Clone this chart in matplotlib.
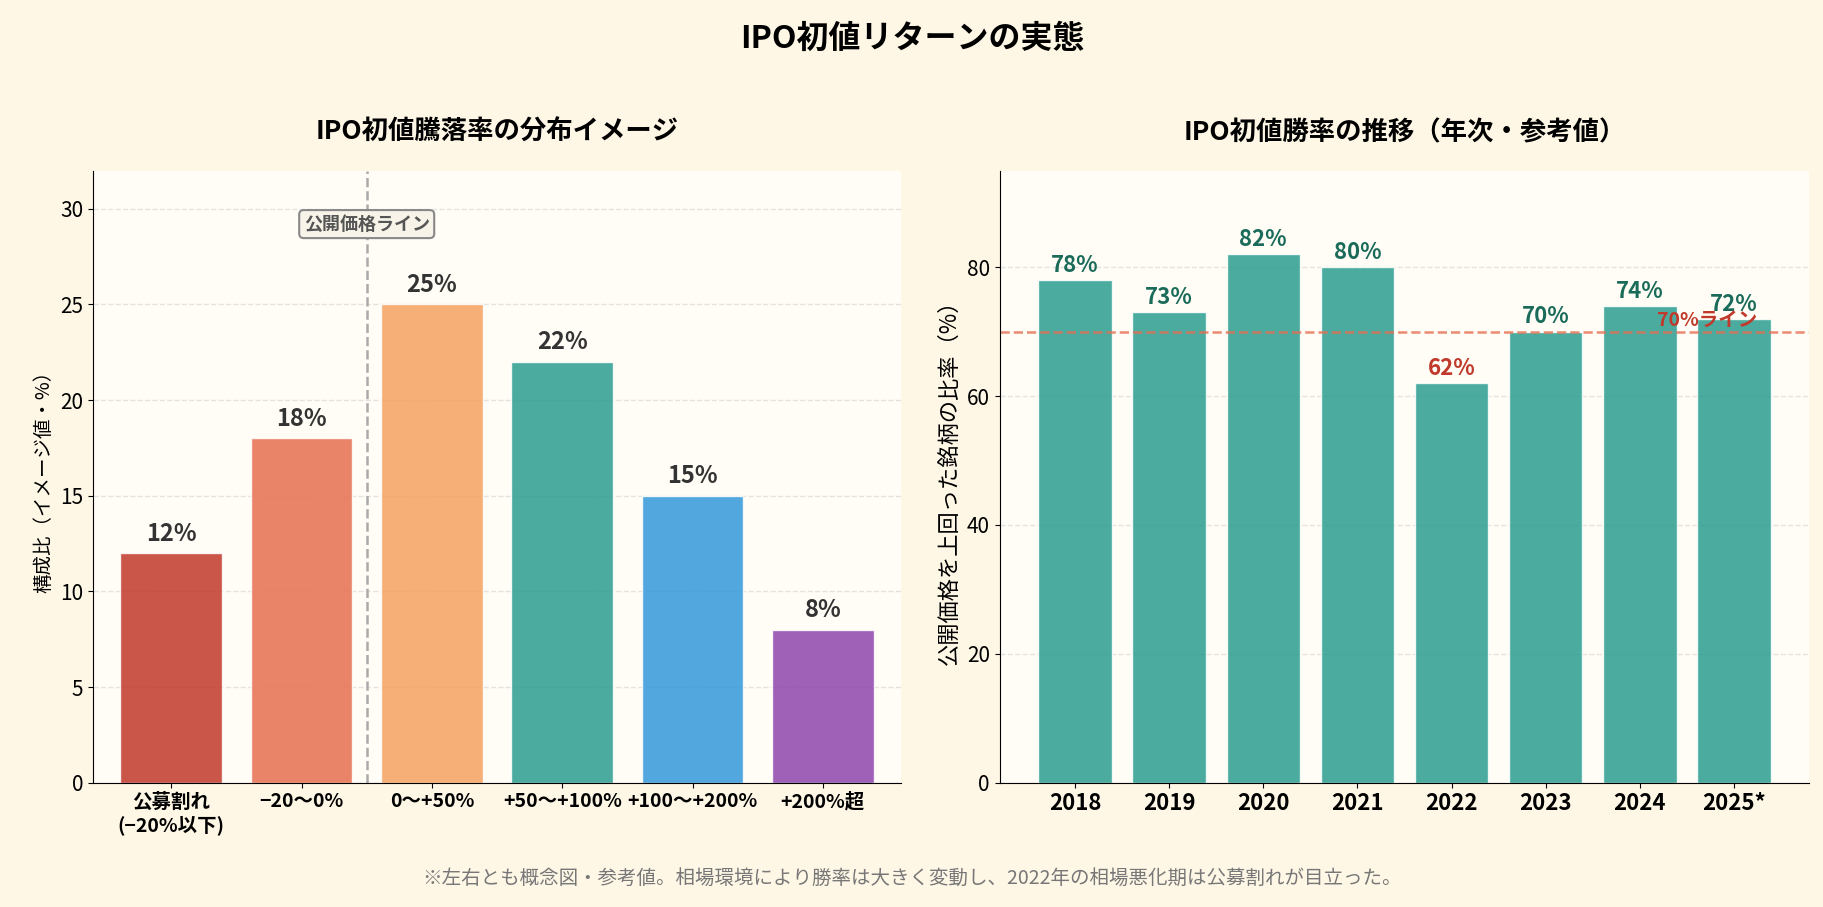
import matplotlib.pyplot as plt
import numpy as np

plt.rcParams['font.family'] = ['Noto Sans CJK JP', 'DejaVu Sans']

# 左: 初値騰落率の分布
dist_labels = ['公募割れ\n(−20%以下)', '−20〜0%', '0〜+50%', '+50〜+100%', '+100〜+200%', '+200%超']
dist_values = [12, 18, 25, 22, 15, 8]
dist_colors = ['#c0392b', '#e76f51', '#f4a261', '#2a9d8f', '#3498db', '#8e44ad']

# 右: 年次勝率
years = ['2018', '2019', '2020', '2021', '2022', '2023', '2024', '2025*']
win_rates = [78, 73, 82, 80, 62, 70, 74, 72]

axbg = '#fffdf5'
fig = plt.figure(figsize=(18.24, 9.07), dpi=100, facecolor='#fef7e6')
ax1 = fig.add_axes([0.051, 0.137, 0.443, 0.675])
ax2 = fig.add_axes([0.548, 0.137, 0.444, 0.675])

for ax in (ax1, ax2):
    ax.set_facecolor(axbg)
    ax.spines['top'].set_visible(False)
    ax.spines['right'].set_visible(False)
    ax.yaxis.grid(True, ls='--', color='#dddddd', lw=1, alpha=0.8)
    ax.set_axisbelow(True)
    ax.tick_params(labelsize=15)

x = np.arange(len(dist_values))
ax1.bar(x, dist_values, color=dist_colors, width=0.78, alpha=0.85, edgecolor='white', lw=1)
for xi, v in zip(x, dist_values):
    ax1.text(xi, v + 0.4, f'{v}%', ha='center', va='bottom', fontsize=17,
             fontweight='bold', color='#333333')
ax1.axvline(1.5, color='#aaaaaa', ls='--', lw=1.8)
ax1.text(1.5, 29.2, '公開価格ライン', ha='center', va='center', fontsize=13,
         fontweight='bold', color='#555555',
         bbox=dict(boxstyle='round,pad=0.25', fc='#f7f3e8', ec='#888888', lw=1.5))
ax1.set_xticks(x)
ax1.set_xticklabels(dist_labels, fontsize=14, fontweight='bold')
ax1.set_xlim(-0.6, 5.6)
ax1.set_ylim(0, 32)
ax1.set_ylabel('構成比（イメージ値・%）', fontsize=14)
ax1.set_title('IPO初値騰落率の分布イメージ', fontsize=19, fontweight='bold', pad=22)

xr = np.arange(len(years))
ax2.bar(xr, win_rates, color='#2a9d8f', width=0.78, alpha=0.85, edgecolor='white', lw=1)
for xi, v in zip(xr, win_rates):
    c = '#c0392b' if v < 70 else '#1a6b5a'
    ax2.text(xi, v + 0.5, f'{v}%', ha='center', va='bottom', fontsize=16,
             fontweight='bold', color=c)
ax2.axhline(70, color='#e76f51', ls='--', lw=1.8, alpha=0.8)
ax2.text(7.25, 70.3, '70%ライン', ha='right', va='bottom', fontsize=14,
         fontweight='bold', color='#c0392b')
ax2.set_xticks(xr)
ax2.set_xticklabels(years, fontsize=16, fontweight='bold')
ax2.set_xlim(-0.8, 7.8)
ax2.set_ylim(0, 95)
ax2.set_ylabel('公開価格を上回った銘柄の比率（%）', fontsize=16)
ax2.set_title('IPO初値勝率の推移（年次・参考値）', fontsize=19, fontweight='bold', pad=22)

fig.suptitle('IPO初値リターンの実態', fontsize=23, fontweight='bold', y=0.975)
fig.text(0.5, 0.025, '※左右とも概念図・参考値。相場環境により勝率は大きく変動し、2022年の相場悪化期は公募割れが目立った。',
         ha='center', fontsize=14, color='#777777')

fig.savefig('out.png', dpi=100, facecolor=fig.get_facecolor())
